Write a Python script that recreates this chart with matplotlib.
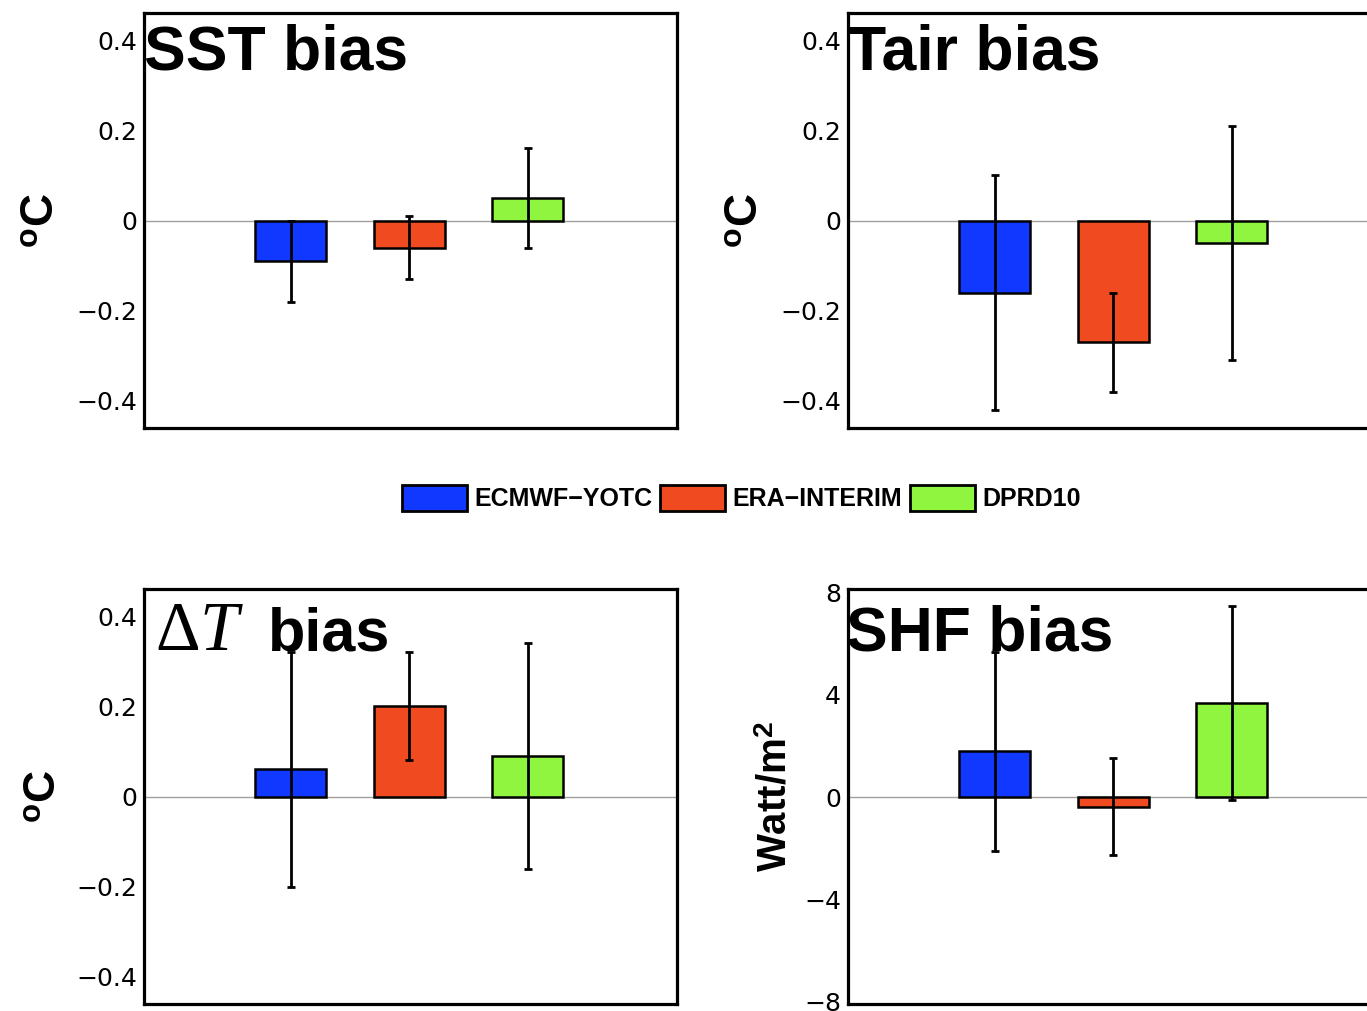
import matplotlib
matplotlib.use("Agg")
import matplotlib.pyplot as plt
from matplotlib.patches import Patch

plt.rcParams['font.family'] = ['Liberation Sans', 'DejaVu Sans']
plt.rcParams['mathtext.fontset'] = 'custom'
plt.rcParams['mathtext.rm'] = 'Liberation Serif'
plt.rcParams['mathtext.it'] = 'Liberation Serif:italic'
plt.rcParams['mathtext.bf'] = 'Liberation Sans:bold'

# data
datasets = ['ECMWF\u2212YOTC', 'ERA\u2212INTERIM', 'DPRD10']
colors = ['#1038ff', '#f04a20', '#8ff53f']
xpos = [1, 2, 3]

sst_bias = [-0.09, -0.06, 0.05]
sst_err = [0.09, 0.07, 0.11]
tair_bias = [-0.16, -0.27, -0.05]
tair_err = [0.26, 0.11, 0.26]
dt_bias = [0.06, 0.20, 0.09]
dt_err = [0.26, 0.12, 0.25]
shf_bias = [1.8, -0.37, 3.7]
shf_err = [3.9, 1.9, 3.8]

temp_ticks = [-0.4, -0.2, 0, 0.2, 0.4]
temp_ticklabels = ['\u22120.4', '\u22120.2', '0', '0.2', '0.4']
shf_ticks = [-8, -4, 0, 4, 8]
shf_ticklabels = ['\u22128', '\u22124', '0', '4', '8']

W, H = 1367, 1011
fig = plt.figure(figsize=(W / 100, H / 100), dpi=100)


def panel(left_px, top_px, vals, errs, ylim, ticks, ticklabels, ylabel, ylabel_size):
    ax = fig.add_axes([left_px / W, 1 - (top_px + 415) / H, 533 / W, 415 / H])
    ax.axhline(0, color='#a0a0a0', lw=1.0, zorder=1)
    ax.bar(xpos, vals, width=0.6, color=colors, edgecolor='black', linewidth=1.8, zorder=2)
    ax.errorbar(xpos, vals, yerr=errs, fmt='none', ecolor='black', elinewidth=2,
                capsize=3, capthick=2, zorder=3)
    ax.set_xlim(-0.24, 4.26)
    ax.set_ylim(*ylim)
    ax.set_xticks([])
    ax.set_yticks(ticks)
    ax.set_yticklabels(ticklabels, fontsize=18, family='DejaVu Sans')
    ax.tick_params(axis='y', length=0, pad=5)
    for s in ax.spines.values():
        s.set_linewidth(2.3)
    ax.set_ylabel(ylabel, fontsize=ylabel_size, fontweight='bold')
    return ax


ax1 = panel(144, 13, sst_bias, sst_err, (-0.46, 0.46), temp_ticks, temp_ticklabels,
            r'$^{\mathbf{o}}$C', 33)
ax1.yaxis.set_label_coords(-0.15, 0.5)
ax1.text(0.0, 0.863, 'SST bias', transform=ax1.transAxes, fontsize=45,
         fontweight='bold', va='baseline', ha='left')

ax2 = panel(848, 13, tair_bias, tair_err, (-0.46, 0.46), temp_ticks, temp_ticklabels,
            r'$^{\mathbf{o}}$C', 33)
ax2.yaxis.set_label_coords(-0.15, 0.5)
ax2.text(0.0, 0.863, 'Tair bias', transform=ax2.transAxes, fontsize=45,
         fontweight='bold', va='baseline', ha='left')

ax3 = panel(144, 589, dt_bias, dt_err, (-0.46, 0.46), temp_ticks, temp_ticklabels,
            r'$^{\mathbf{o}}$C', 32)
ax3.yaxis.set_label_coords(-0.15, 0.5)
ax3.text(0.02, 0.853, r'$\Delta T$', transform=ax3.transAxes, fontsize=50,
         va='baseline', ha='left')
ax3.text(0.232, 0.853, 'bias', transform=ax3.transAxes, fontsize=44,
         fontweight='bold', va='baseline', ha='left')

ax4 = panel(848, 589, shf_bias, shf_err, (-8.1, 8.15), shf_ticks, shf_ticklabels,
            r'Watt/m$^{\mathbf{2}}$', 29)
ax4.yaxis.set_label_coords(-0.1, 0.5)
ax4.text(-0.004, 0.853, 'SHF bias', transform=ax4.transAxes, fontsize=45,
         fontweight='bold', va='baseline', ha='left')

handles = [Patch(facecolor=c, edgecolor='black', linewidth=2) for c in colors]
fig.legend(handles, datasets, loc='center', bbox_to_anchor=(741.5 / W, 1 - 498 / H),
           ncol=3, frameon=False, prop={'size': 18, 'weight': 'bold'},
           handlelength=2.6, handleheight=1.2, handletextpad=0.3, columnspacing=0.3)

fig.savefig('out.png', dpi=100)
